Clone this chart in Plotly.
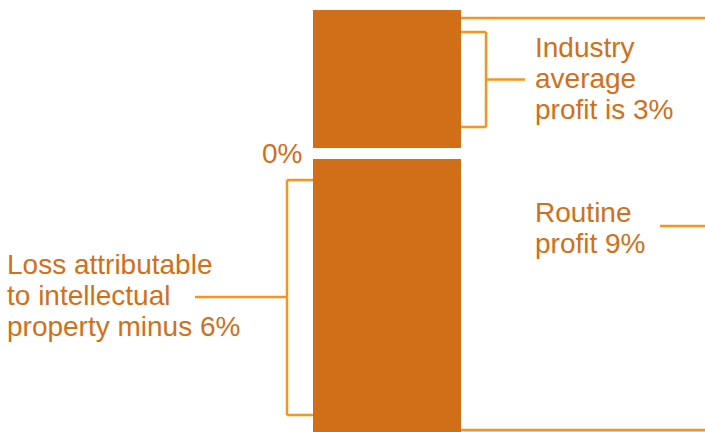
import plotly.graph_objects as go

# Profit decomposition (percent of revenue)
segments = ["Industry average profit", "Loss attributable to intellectual property"]
values = [3, -6]
routine_profit = values[0] - values[1]

industry_lines = ["Industry", "average", f"profit is {values[0]}%"]
loss_lines = ["Loss attributable", "to intellectual", f"property minus {abs(values[1])}%"]
routine_lines = ["Routine", f"profit {routine_profit}%"]
zero_label = "0%"

BAR_COLOR = "#D06F17"
LINE_COLOR = "#F7941D"
TEXT_COLOR = "#D0701A"
FONT = "Liberation Sans, Arial, Helvetica, sans-serif"
FONT_SIZE = 28
LINE_PX = 31

W, H = 705, 432
PX_PER_PCT = 49.7
ZERO_PX = 153.5
y_top = ZERO_PX / PX_PER_PCT
y_bot = -(H - ZERO_PX) / PX_PER_PCT

BAR_X = 387
BAR_W = 159
GAP_PX = 11

fig = go.Figure()
for name, v in zip(segments, values):
    fig.add_trace(go.Bar(
        x=[BAR_X], y=[v], width=BAR_W, name=name,
        marker=dict(color=BAR_COLOR, line=dict(color="white", width=GAP_PX)),
        hoverinfo="skip", showlegend=False,
    ))

bar_left = BAR_X - BAR_W / 2 + GAP_PX / 2
bar_right = BAR_X + BAR_W / 2 - GAP_PX / 2

shapes = []
def seg(x0, y0, x1, y1):
    shapes.append(dict(type="line", xref="x", yref="y", x0=x0, y0=y0, x1=x1, y1=y1,
                       line=dict(color=LINE_COLOR, width=2.5)))

def px2v(p):
    return (ZERO_PX - p) / PX_PER_PCT

def bracket(x_bar, x_spine, top_px, bot_px, mid_px, tick_end):
    t, b, m = px2v(top_px), px2v(bot_px), px2v(mid_px)
    seg(x_bar, t, x_spine, t)
    seg(x_bar, b, x_spine, b)
    seg(x_spine, b, x_spine, t)
    seg(x_spine, m, tick_end, m)
    return m

# Industry average bracket (right of the upper block)
ind_mid = bracket(bar_right, 486, 32, 127, 79.5, 525)
# Loss bracket (left of the lower block)
loss_mid = bracket(bar_left, 287, 180, 415, 297, 195)
# Routine profit bracket spanning the whole column (spine falls just past the edge)
routine_mid = bracket(bar_right, 712, 18, 430, 226, 660)

annotations = []
def text_block(lines, x, yc):
    n = len(lines)
    for i, t in enumerate(lines):
        annotations.append(dict(
            x=x, y=yc, xref="x", yref="y", text=t, showarrow=False,
            xanchor="left", yanchor="middle",
            yshift=-((i - (n - 1) / 2) * LINE_PX),
            font=dict(family=FONT, size=FONT_SIZE, color=TEXT_COLOR),
        ))

text_block(industry_lines, 533, px2v(78))
text_block(loss_lines, 5, px2v(295))
text_block(routine_lines, 533, px2v(228))

annotations.append(dict(
    x=304, y=0, xref="x", yref="y", text=zero_label, showarrow=False,
    xanchor="right", yanchor="middle",
    font=dict(family=FONT, size=FONT_SIZE, color=TEXT_COLOR),
))

fig.update_layout(
    width=W, height=H,
    margin=dict(l=0, r=0, t=0, b=0),
    paper_bgcolor="white", plot_bgcolor="white",
    barmode="relative",
    xaxis=dict(range=[0, W], visible=False, fixedrange=True),
    yaxis=dict(range=[y_bot, y_top], visible=False, fixedrange=True),
    shapes=shapes, annotations=annotations,
)

fig.write_html("out.html")
